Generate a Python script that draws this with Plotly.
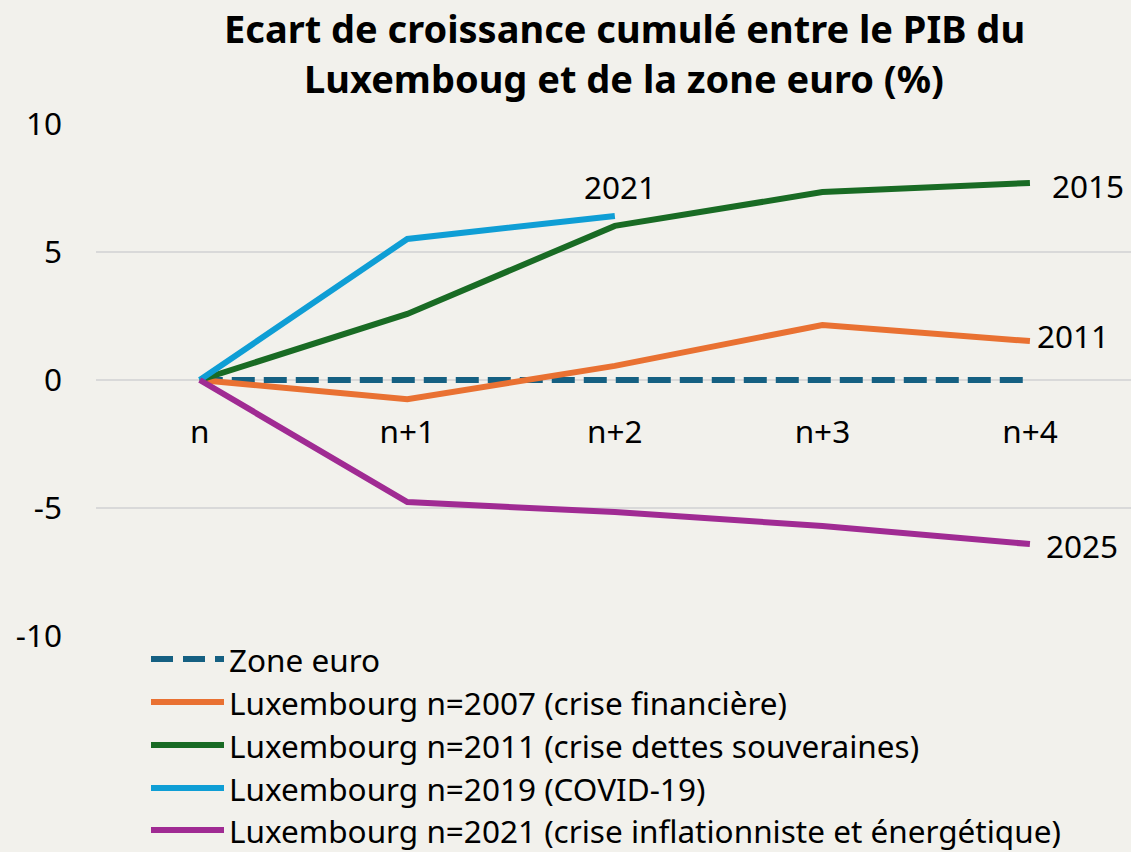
import plotly.graph_objects as go

# ---- data ----
categories = ["n", "n+1", "n+2", "n+3", "n+4"]
zone_euro = [0, 0, 0, 0, 0]
lux_2007 = [0, -0.75, 0.55, 2.15, 1.52]
lux_2011 = [0, 2.58, 6.02, 7.34, 7.70]
lux_2019 = [0, 5.51, 6.41]
lux_2021 = [0, -4.77, -5.16, -5.70, -6.41]

series_names = [
    "Zone euro",
    "Luxembourg n=2007 (crise financière)",
    "Luxembourg n=2011 (crise dettes souveraines)",
    "Luxembourg n=2019 (COVID-19)",
    "Luxembourg n=2021 (crise inflationniste et énergétique)",
]
end_labels = ["2011", "2015", "2021", "2025"]
title_lines = ["Ecart de croissance cumulé entre le PIB du",
               "Luxemboug et de la zone euro (%)"]
y_ticks = [-10, -5, 0, 5, 10]
y_tick_text = ["-10", "-5", "0", "5", "10"]

# ---- styling ----
W, H = 1131, 852
ML, MR, MT, MB = 96, 0, 124, 216
PW, PH = W - ML - MR, H - MT - MB
BG = "#F2F1EC"
FONT = "Noto Sans"
FS = 31.5
colors = ["#156082", "#E97132", "#196B24", "#0F9ED5", "#A02B93"]
LW = 6
DASH = "23px,9px"


def px_x(px):
    return (px - ML) / PW


def px_y(py):
    return (H - MB - py) / PH


fig = go.Figure()
series_vals = [zone_euro, lux_2007, lux_2011, lux_2019, lux_2021]
for name, vals, col in zip(series_names, series_vals, colors):
    fig.add_trace(go.Scatter(
        x=categories[:len(vals)], y=vals, mode="lines", name=name,
        line=dict(color=col, width=LW, dash=DASH if name == "Zone euro" else "solid"),
        showlegend=False, hoverinfo="skip",
    ))

annotations = []
lab_font = dict(family=FONT, size=FS, color="#000000")
annotations.append(dict(x=categories[4], y=lux_2007[4], xref="x", yref="y", text=end_labels[0],
                        showarrow=False, xanchor="left", yanchor="middle", xshift=5, yshift=6, font=lab_font))
annotations.append(dict(x=categories[4], y=lux_2011[4], xref="x", yref="y", text=end_labels[1],
                        showarrow=False, xanchor="left", yanchor="middle", xshift=20, yshift=-3, font=lab_font))
annotations.append(dict(x=categories[2], y=lux_2019[2], xref="x", yref="y", text=end_labels[2],
                        showarrow=False, xanchor="center", yanchor="middle", xshift=5, yshift=29, font=lab_font))
annotations.append(dict(x=categories[4], y=lux_2021[4], xref="x", yref="y", text=end_labels[3],
                        showarrow=False, xanchor="left", yanchor="middle", xshift=14, yshift=-1, font=lab_font))

# title lines
for line, py in zip(title_lines, [28, 78]):
    annotations.append(dict(x=px_x(624), y=px_y(py), xref="paper", yref="paper", text=line,
                            showarrow=False, xanchor="center", yanchor="middle",
                            font=dict(family=FONT, size=38, color="#000000", weight="bold")))

# legend (drawn manually)
shapes = []
leg_y = [659, 702, 745, 788, 830]
for name, col, py in zip(series_names, colors, leg_y):
    shapes.append(dict(type="line", xref="paper", yref="paper",
                       x0=px_x(151), x1=px_x(224), y0=px_y(py), y1=px_y(py),
                       line=dict(color=col, width=LW, dash="22px,10px" if name == "Zone euro" else "solid")))
    annotations.append(dict(x=px_x(227), y=px_y(py), xref="paper", yref="paper", text=name,
                            showarrow=False, xanchor="left", yanchor="middle",
                            font=dict(family=FONT, size=FS, color="#000000")))

fig.update_layout(
    width=W, height=H,
    margin=dict(l=ML, r=MR, t=MT, b=MB, pad=0),
    paper_bgcolor=BG, plot_bgcolor=BG,
    showlegend=False,
    annotations=annotations,
    shapes=shapes,
    xaxis=dict(type="category", categoryorder="array", categoryarray=categories,
               range=[-0.5, 4.487], anchor="free", position=0.5,
               showgrid=False, zeroline=False, showline=False, ticks="",
               ticklabelstandoff=30,
               tickfont=dict(family=FONT, size=FS, color="#000000")),
    yaxis=dict(range=[-10, 10], tickvals=y_ticks, ticktext=y_tick_text,
               showgrid=True, gridcolor="#D9D9D9", gridwidth=2,
               zeroline=False, showline=False, ticks="", ticklabelstandoff=33,
               tickfont=dict(family=FONT, size=FS, color="#000000")),
)

fig.write_html("out.html", config={"displayModeBar": False},
               post_script="document.body.style.margin='0';document.body.style.overflow='hidden';")
